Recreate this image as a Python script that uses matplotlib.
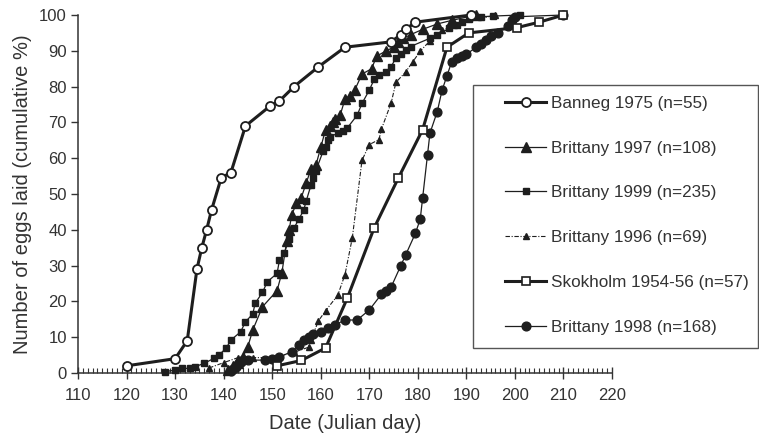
import matplotlib
matplotlib.use("Agg")
import matplotlib.pyplot as plt
from matplotlib.patches import Rectangle
from matplotlib.ticker import MultipleLocator

plt.rcParams["font.family"] = ["Liberation Sans", "DejaVu Sans"]

# cumulative % of eggs laid per Julian day
banneg75_day = [120, 130, 132.5, 134.5, 135.5, 136.5, 137.5, 139.5, 141.5, 144.5,
                149.5, 151.5, 154.5, 159.5, 165, 174.5, 176.5, 177.5, 179.5, 191]
banneg75_pct = [2, 4, 9, 29, 35, 40, 45.5, 54.5, 56, 69,
                74.5, 76, 80, 85.5, 91, 92.5, 94.5, 96, 98, 100]

britt97_day = [141, 142, 143, 144, 145, 146, 148, 151, 152, 153, 153.5, 154, 155, 156,
               157, 158, 159, 160, 161, 162, 162.5, 163, 164, 165, 166, 167, 168.5,
               170.5, 171.5, 173.5, 175, 176, 177, 178.5, 181, 184, 187, 192]
britt97_pct = [0.9, 1.9, 2.8, 4.6, 7.4, 12, 18.5, 23, 28, 37, 40, 44, 47.5, 49,
               53, 57, 58, 63, 68, 69, 70, 71, 72, 76.5, 77.5, 79, 83.5,
               85, 88.5, 90, 91, 92.5, 93.5, 94.5, 96, 97.5, 98.5, 100]

britt99_day = [128, 130, 131.5, 133, 134, 136, 138, 139, 140.5, 141.5, 143.5, 144.5,
               146, 146.5, 148, 149, 151, 151.5, 152.5, 153.5, 154.5, 155.5, 156.5,
               157, 158, 158.5, 159, 160.5, 161, 161.5, 162, 163.5, 164.5, 165.5,
               167.5, 168.5, 170, 171, 172, 173.5, 174.5, 175.5, 176.5, 177.5, 178.5,
               182.5, 184, 186.5, 188, 189, 190.5, 193, 195.5, 201]
britt99_pct = [0.4, 0.8, 1.3, 1.3, 1.7, 2.7, 4.1, 5, 6.9, 9.2, 11.5, 14.3,
               16.5, 19.5, 22.5, 25.5, 27.8, 31.5, 33.5, 37.5, 40.5, 43, 45.5,
               48, 52.5, 54.5, 56.5, 62, 63, 65, 66, 67, 67.5, 68.5,
               72, 75.3, 79, 82, 83.2, 84.2, 85.6, 88, 89, 90.2, 91.2,
               93.5, 94.4, 96.3, 97.2, 98, 99, 99.5, 99.7, 100]

britt96_day = [137, 140, 143, 146, 150, 154.5, 157.5, 158, 159.5, 161, 163.5, 165,
               166.5, 168.5, 170, 172, 172.5, 174.5, 175.5, 177.5, 179, 180.5, 182.5,
               185, 187.5, 196]
britt96_pct = [1.4, 2.9, 4.3, 4.3, 4.3, 5.8, 7.2, 9.2, 14.5, 17.4, 21.7, 27.5,
               37.7, 59.4, 63.8, 65.2, 68.1, 75.4, 81.2, 84.1, 87, 89.9, 92.8,
               95.7, 97.1, 100]

skok_day = [151, 156, 161, 165.5, 171, 176, 181, 186, 190.5, 200.5, 205, 210]
skok_pct = [2, 3.5, 7, 21, 40.5, 54.5, 68, 91, 95, 96.5, 98, 100]

britt98_day = [141.5, 142, 142.5, 143, 143.5, 144, 145, 148.5, 150, 151.5, 154, 155.5,
               156.5, 157.5, 158.5, 160, 161.5, 163, 165, 167.5, 170, 172.5, 173.5,
               174.5, 176.5, 177.5, 179.5, 180.5, 181, 182, 182.5, 184, 185, 186, 187,
               188, 189, 190, 192, 193, 194, 195, 196.5, 198.5, 199.5, 200, 210]
britt98_pct = [0.6, 1.2, 1.8, 2.4, 3, 3.6, 3.6, 3.6, 3.8, 4.4, 6, 7.8,
               9.2, 10, 10.9, 11.5, 12.5, 13.5, 14.8, 14.8, 17.6, 22, 23,
               24, 30, 33, 39, 43, 49, 61, 67, 73, 79, 83, 87,
               88, 88.5, 89, 91, 92, 93, 94, 95, 97, 98.6, 99.5, 100]

INK = "#1e1e1e"

fig = plt.figure(figsize=(7.59, 4.43), dpi=100)
ax = fig.add_axes([78 / 759, 70 / 443, 534 / 759, 358 / 443])

common = dict(color=INK, markeredgecolor=INK, clip_on=False)
ax.plot(banneg75_day, banneg75_pct, lw=2.2, marker="o", ms=6.5, mfc="white",
        mew=1.3, label="Banneg 1975 (n=55)", zorder=5, **common)
ax.plot(britt97_day, britt97_pct, lw=0.9, marker="^", ms=7, mfc=INK,
        label="Brittany 1997 (n=108)", zorder=4, **common)
ax.plot(britt99_day, britt99_pct, lw=0.9, marker="s", ms=4.4, mfc=INK,
        label="Brittany 1999 (n=235)", zorder=4, **common)
ax.plot(britt96_day, britt96_pct, lw=0.8, ls=(0, (4, 1.5, 1, 1.5)), marker="^",
        ms=3.8, mfc=INK, label="Brittany 1996 (n=69)", zorder=4, **common)
ax.plot(skok_day, skok_pct, lw=2.2, marker="s", ms=6.2, mfc="white", mew=1.2,
        label="Skokholm 1954-56 (n=57)", zorder=5, **common)
ax.plot(britt98_day, britt98_pct, lw=0.9, marker="o", ms=6.3, mfc=INK,
        label="Brittany 1998 (n=168)", zorder=4, **common)

ax.set_xlim(110, 220)
ax.set_ylim(0, 100)
ax.xaxis.set_major_locator(MultipleLocator(10))
ax.xaxis.set_minor_locator(MultipleLocator(1))
ax.yaxis.set_major_locator(MultipleLocator(10))

for side in ("top", "right"):
    ax.spines[side].set_visible(False)
for side in ("left", "bottom"):
    ax.spines[side].set_color("#333333")
    ax.spines[side].set_linewidth(1.1)

ax.tick_params(axis="x", which="major", direction="inout", length=8, width=1,
               color="#333333", labelsize=12, labelcolor="#333333", pad=7)
ax.tick_params(axis="x", which="minor", direction="in", length=3.5, width=0.8,
               color="#333333")
ax.tick_params(axis="y", which="major", direction="out", length=5, width=1,
               color="#333333", labelsize=12, labelcolor="#333333", pad=3)

ax.set_xlabel("Date (Julian day)", fontsize=14.5, color="#333333", labelpad=8)
ax.set_ylabel("Number of eggs laid (cumulative %)", fontsize=14.5, color="#333333",
              labelpad=5)

# legend frame runs off the right edge of the figure
fig.patches.append(Rectangle((473 / 759, 95 / 443), 285 / 759, 263 / 443,
                             transform=fig.transFigure, fill=False,
                             edgecolor="#555555", lw=1.0))
fig.legend(loc="upper left", bbox_to_anchor=(505 / 759, 347 / 443),
           frameon=False, fontsize=12.3, labelspacing=1.74, handlelength=2.4,
           handletextpad=0.3, borderpad=0, borderaxespad=0, labelcolor="#333333")

fig.savefig("out.png", dpi=100)
